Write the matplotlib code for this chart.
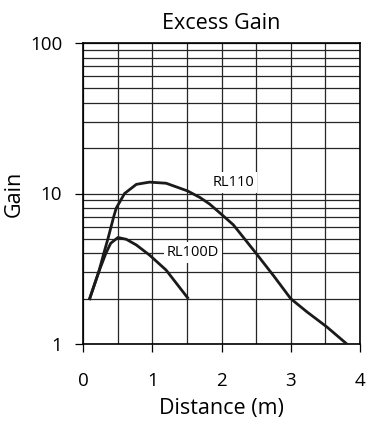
import matplotlib
matplotlib.use("Agg")
import matplotlib.pyplot as plt
from matplotlib.ticker import FixedLocator, NullFormatter

# curve data
rl110_dist = [0.096, 0.226, 0.30, 0.36, 0.443, 0.48, 0.60, 0.77, 0.96, 1.2, 1.51, 1.69, 1.83,
              2.01, 2.17, 2.31, 2.5, 2.75, 3.0, 3.23, 3.52, 3.81]
rl110_gain = [2.0, 3.0, 4.0, 5.0, 7.0, 8.0, 10.0, 11.5, 11.9, 11.7, 10.4, 9.4, 8.5,
              7.2, 6.2, 5.15, 4.0, 2.85, 2.0, 1.64, 1.3, 1.0]

rl100d_dist = [0.096, 0.226, 0.33, 0.40, 0.505, 0.626, 0.77, 0.96, 1.2, 1.51]
rl100d_gain = [2.0, 3.0, 4.0, 4.67, 5.1, 4.96, 4.55, 3.9, 3.1, 2.03]

plt.rcParams['font.family'] = ['Open Sans', 'DejaVu Sans']

fig = plt.figure(figsize=(3.69, 4.25), dpi=100)
ax = fig.add_axes([83/369, 1 - 344/425, 277/369, 301/425])

ax.plot(rl110_dist, rl110_gain, color='#1a1a1a', lw=2, zorder=3, solid_joinstyle='round')
ax.plot(rl100d_dist, rl100d_gain, color='#1a1a1a', lw=2, zorder=3, solid_joinstyle='round')

ax.set_yscale('log')
ax.set_xlim(0, 4)
ax.set_ylim(1, 100)

ax.set_xticks([0, 1, 2, 3, 4])
ax.xaxis.set_minor_locator(FixedLocator([0.5, 1.5, 2.5, 3.5]))
ax.set_yticks([1, 10, 100])
ax.set_yticklabels(['1', '10', '100'])
ax.yaxis.set_minor_locator(FixedLocator([m * d for d in (1, 10) for m in range(2, 10)]))
ax.yaxis.set_minor_formatter(NullFormatter())

ax.grid(True, which='both', color='#262626', lw=0.9)
ax.tick_params(which='major', direction='out', length=6, width=0.9, labelsize=13.5)
ax.tick_params(axis='x', which='major', pad=14)
ax.tick_params(axis='y', which='major', pad=9)
ax.tick_params(which='minor', length=0)
for s in ax.spines.values():
    s.set_linewidth(1.2)

ax.text(2.17, 11.8, 'RL110', fontsize=10.5, ha='center', va='center', zorder=4,
        bbox=dict(facecolor='white', edgecolor='none', pad=2))
ax.text(1.59, 4.04, 'RL100D', fontsize=10.5, ha='center', va='center', zorder=4,
        bbox=dict(facecolor='white', edgecolor='none', pad=2))

ax.set_title('Excess Gain', fontsize=15.5, pad=10)
ax.set_xlabel('Distance (m)', fontsize=15.5, labelpad=6)
ax.set_ylabel('Gain', fontsize=15.5, labelpad=4)

fig.savefig('out.png', dpi=100)
